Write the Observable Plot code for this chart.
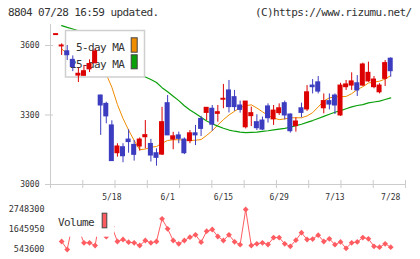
<!DOCTYPE html>
<html>
<head>
<meta charset="utf-8">
<script src="https://cdn.jsdelivr.net/npm/d3@7"></script>
<script src="https://cdn.jsdelivr.net/npm/@observablehq/plot@0.6"></script>
<style>
  body { margin: 0; background: #fff; }
  #chart { position: relative; width: 420px; height: 259px; overflow: hidden; background: #fff;
           font-family: "DejaVu Sans Mono", monospace; color: #333; }
  .hdr { position: absolute; top: 6px; font-size: 11px; letter-spacing: -0.6px; line-height: 13px; white-space: pre; }
  #price, #volume { position: absolute; left: 0; }
  #price { top: 0; }
  #volume { top: 200px; }
</style>
</head>
<body>
<div id="chart">
  <div class="hdr" style="left:8px">8804 07/28 16:59 updated.</div>
  <div class="hdr" style="left:255px">(C)https://www.rizumu.net/</div>
  <div id="price"></div>
  <div id="volume"></div>
</div>
<script>
// Trading days shown (oldest first)
const dates = ["4/28","4/30","5/1","5/7","5/8","5/11","5/12","5/13","5/14","5/15",
  "5/18","5/19","5/20","5/21","5/22","5/25","5/26","5/27","5/28","5/29",
  "6/1","6/2","6/3","6/4","6/5","6/8","6/9","6/10","6/11","6/12",
  "6/15","6/16","6/17","6/18","6/19","6/22","6/23","6/24","6/25","6/26",
  "6/29","6/30","7/1","7/2","7/3","7/6","7/7","7/8","7/9","7/10",
  "7/13","7/14","7/15","7/16","7/17","7/21","7/22","7/23","7/24","7/27","7/28"];
const dateLabels = ["5/18","6/1","6/15","6/29","7/13","7/28"];

// Daily prices (yen)
const open = [3645,3596,3575,3538,3470,3469,3497,3523,3384,3348,3255,3135,3161,3194,3171,3164,3204,3175,3135,3129,
  3351,3194,3212,3194,3187,3221,3283,3309,3327,3305,3366,3406,3377,3341,3247,3295,3269,3276,3337,3281,
  3308,3351,3302,3252,3329,3324,3427,3441,3329,3360,3384,3298,3420,3427,3437,3427,3445,3420,3398,3456,3543];
const high = [3649,3607,3600,3555,3502,3514,3538,3585,3386,3355,3275,3176,3176,3236,3190,3201,3276,3195,3154,3333,
  3384,3225,3226,3201,3233,3255,3294,3331,3341,3341,3432,3449,3406,3360,3358,3334,3301,3291,3348,3341,
  3348,3360,3305,3288,3351,3427,3453,3466,3391,3391,3391,3437,3449,3482,3470,3524,3528,3466,3435,3535,3547];
const low = [3645,3557,3535,3487,3440,3469,3483,3523,3212,3262,3100,3118,3094,3135,3101,3144,3154,3097,3079,3125,
  3212,3150,3176,3129,3176,3168,3207,3276,3230,3269,3327,3309,3316,3308,3240,3250,3233,3233,3265,3255,
  3298,3279,3222,3226,3288,3315,3391,3391,3305,3322,3302,3294,3406,3406,3380,3423,3441,3413,3391,3423,3463];
const close = [3649,3600,3558,3507,3478,3489,3520,3574,3341,3294,3101,3164,3122,3183,3128,3194,3213,3125,3115,3269,
  3212,3208,3197,3135,3221,3212,3240,3331,3258,3312,3370,3334,3334,3322,3358,3308,3243,3237,3286,3319,
  3329,3298,3230,3272,3309,3398,3420,3401,3360,3345,3341,3427,3432,3445,3406,3518,3482,3453,3427,3524,3489];

// Moving averages
const ma5 = [null,3585,3565,3545,3530,3515,3505,3505,3490,3475,3420,3345,3285,3235,3190,3150,3153,3161,3164,3178,
  3190,3193,3193,3192,3190,3191,3194,3212,3232,3257,3280,3300,3316,3332,3340,3344,3330,3314,3298,3287,
  3280,3283,3288,3288,3288,3296,3310,3335,3360,3374,3378,3379,3380,3392,3410,3422,3438,3442,3446,3455,3470];
const ma25 = [null,3686,3678,3671,3663,3645,3628,3612,3594,3576,3558,3540,3522,3504,3488,3474,3464,3453,3440,3418,
  3400,3381,3362,3340,3322,3306,3290,3274,3262,3252,3243,3235,3230,3226,3224,3225,3226,3229,3232,3236,
  3239,3242,3247,3254,3260,3268,3276,3285,3294,3303,3312,3319,3327,3335,3341,3345,3352,3356,3360,3367,3374];

// Daily volume (shares)
const volume = [null,985000,543600,2050000,1700000,913000,913000,764000,2500000,1250000,1800000,985000,1095000,946000,913000,764000,1040000,913000,985000,2236000,
  1685000,1040000,858000,1040000,1220000,1354000,946000,1552000,1646000,1260000,1040000,1354000,970000,811000,2748300,764000,858000,913000,819000,1200000,
  1200000,858000,717000,1060000,1470000,1095000,1120000,1335000,985000,1133000,811000,960000,610000,913000,960000,1200000,1133000,717000,670000,858000,670000];

const priceTicks = [3000, 3300, 3600];
const volumeTicks = [543600, 1645950, 2748300];

const RED = "#dc0000", BLUE = "#3c3cc0", ORANGE = "#f08c00", GREEN = "#0aa00a", VOL = "#ff5c62";
const AXIS = "#cccccc", TEXT = "#333333";

const rows = dates.map((date, k) => ({
  k, date, open: open[k], high: high[k], low: low[k], close: close[k],
  ma5: ma5[k], ma25: ma25[k], vol: volume[k]
}));
const candleColor = d => d.close >= d.open ? RED : BLUE;

// horizontal index domain; 11 evenly spaced grid ticks along the bottom axis
const X0 = -1, X1 = 62.65;
const gridTicks = d3.range(12).map(i => X0 + i * (X1 - X0) / 11);
const labelSet = new Set(dateLabels);

const fontStyle = {background: "transparent", overflow: "visible", fontFamily: "DejaVu Sans Mono, monospace", color: TEXT};

// legend box for the moving averages (drawn above the lines, below the candles)
function maLegend() {
  const g = d3.create("svg:g").attr("font-size", 11).attr("letter-spacing", "-0.6px")
    .attr("fill", TEXT).attr("text-anchor", "start");
  g.append("rect").attr("x", 65.5).attr("y", 30.5).attr("width", 79).attr("height", 46.5)
    .attr("fill", "#fff").attr("stroke", "#cfcfcf").attr("stroke-width", 1.5);
  g.append("text").attr("x", 76).attr("y", 50.5).text("5-day MA");
  g.append("text").attr("x", 70).attr("y", 67.5).text("25-day MA");
  g.append("rect").attr("x", 131.2).attr("y", 37.8).attr("width", 6).attr("height", 14.4)
    .attr("fill", ORANGE).attr("stroke", "#444");
  g.append("rect").attr("x", 131.2).attr("y", 54.8).attr("width", 6).attr("height", 14)
    .attr("fill", GREEN).attr("stroke", "#444");
  return g.node();
}

function volLegend() {
  const g = d3.create("svg:g").attr("font-size", 11).attr("letter-spacing", "-0.6px")
    .attr("fill", TEXT).attr("text-anchor", "start");
  g.append("rect").attr("x", 56).attr("y", 8).attr("width", 58).attr("height", 28.7).attr("fill", "#fff");
  g.append("text").attr("x", 58).attr("y", 25.7).text("Volume");
  g.append("rect").attr("x", 102.2).attr("y", 13.2).attr("width", 4.6).attr("height", 14.6)
    .attr("fill", VOL).attr("stroke", "#444");
  return g.node();
}

const price = Plot.plot({
  width: 420, height: 205,
  marginTop: 24, marginBottom: 21, marginLeft: 50, marginRight: 15,
  x: {domain: [X0, X1], axis: null},
  y: {domain: [3000, 3690.6], axis: null},
  style: fontStyle,
  marks: [
    Plot.ruleX([X0], {stroke: AXIS}),
    Plot.ruleY([3000], {stroke: AXIS}),
    Plot.ruleY(priceTicks, {x1: X0, x2: X0, insetLeft: -5, insetRight: -3, stroke: AXIS}),
    Plot.ruleX(gridTicks, {y1: 3000, y2: 3000, insetTop: -4, insetBottom: -4, stroke: AXIS}),
    Plot.text(priceTicks, {x: X0, y: d => d, text: d => String(d), textAnchor: "end", dx: -11, fontSize: 8, fill: TEXT}),
    Plot.text(rows.filter(d => labelSet.has(d.date)), {x: "k", y: 3000, text: "date", dy: 13, fontSize: 8, fill: TEXT}),
    Plot.line(rows, {x: "k", y: "ma5", stroke: ORANGE, strokeWidth: 1}),
    Plot.line(rows, {x: "k", y: "ma25", stroke: GREEN, strokeWidth: 1.2}),
    maLegend,
    Plot.ruleX(rows, {x: "k", y1: "low", y2: "high", stroke: candleColor, strokeWidth: 1}),
    Plot.rect(rows, {x1: d => d.k - 0.45, x2: d => d.k + 0.45, y1: "open", y2: "close",
                     fill: candleColor, insetTop: -0.5, insetBottom: -0.5})
  ]
});
document.getElementById("price").append(price);

const vol = Plot.plot({
  width: 420, height: 59,
  marginTop: 9, marginBottom: 10, marginLeft: 50, marginRight: 15,
  x: {domain: [X0, X1], axis: null},
  y: {domain: [543600, 2748300], axis: null},
  style: fontStyle,
  marks: [
    Plot.text(volumeTicks, {x: X0, y: d => d, text: d => String(d), textAnchor: "end", dx: -6, fontSize: 8.5, fill: TEXT}),
    Plot.line(rows, {x: "k", y: "vol", stroke: VOL, strokeWidth: 1}),
    Plot.dot(rows.filter(d => d.vol != null), {x: "k", y: "vol", symbol: "diamond2", r: 2.6, fill: VOL, stroke: "none"}),
    volLegend
  ]
});
document.getElementById("volume").append(vol);
</script>
</body>
</html>
